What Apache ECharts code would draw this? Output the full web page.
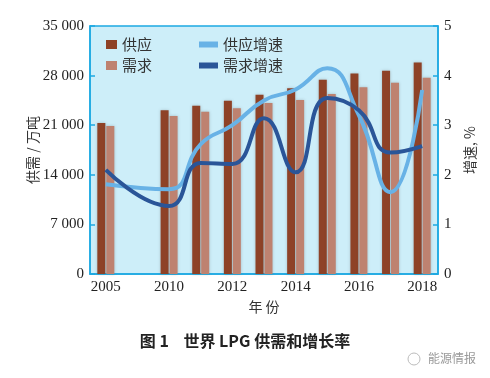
<!DOCTYPE html>
<html><head><meta charset="utf-8">
<script src="https://cdn.jsdelivr.net/npm/echarts@6/dist/echarts.min.js"></script>
<style>html,body{margin:0;padding:0;background:#fff;}#c{width:490px;height:378px;}</style>
</head><body><div id="c"></div>
<script>
var categories = ['2005', '', '2010', '2011', '2012', '2013', '2014', '2015', '2016', '2017', '2018'];
var supply = [21300, null, 23100, 23750, 24450, 25300, 26200, 27400, 28300, 28700, 29850];
var demand = [20900, null, 22300, 22900, 23400, 24150, 24550, 25400, 26350, 27000, 27700];
var supplyGrowth = [1.81, null, 1.71, 2.62, 3.0, 3.5, 3.72, 4.15, 3.2, 1.65, 3.71];
var demandGrowth = [2.10, null, 1.37, 2.24, 2.22, 3.14, 2.05, 3.55, 3.3, 2.45, 2.58];
var leftTicks = [0, 7000, 14000, 21000, 28000, 35000];

var serif = '"Liberation Serif", "Noto Sans CJK SC", serif';
var axisBlue = '#1DA9E2';
var chart = echarts.init(document.getElementById('c'));
function fmt(v){ return v === 0 ? '0' : String(v).replace(/\B(?=(\d{3})+(?!\d))/g, ' '); }
chart.setOption({
  animation: false,
  grid: {left: 90, right: 52, top: 26, bottom: 104, show: true, backgroundColor: '#CDEEF9', borderColor: axisBlue, borderWidth: 1.5},
  legend: [
    {data: ['供应', '需求'], orient: 'vertical', left: 101, top: 32, itemGap: 6, itemWidth: 11, itemHeight: 9, icon: 'rect',
     textStyle: {fontFamily: '"Noto Sans CJK SC"', fontSize: 15, color: '#333'}},
    {data: ['供应增速', '需求增速'], orient: 'vertical', left: 194, top: 32, itemGap: 6, itemWidth: 19, itemHeight: 6, icon: 'rect',
     textStyle: {fontFamily: '"Noto Sans CJK SC"', fontSize: 15, color: '#333'}}
  ],
  xAxis: {
    type: 'category', data: categories,
    name: '年 份', nameLocation: 'middle', nameGap: 25,
    nameTextStyle: {fontFamily: '"Noto Sans CJK SC"', fontSize: 14, color: '#333'},
    axisLine: {lineStyle: {color: axisBlue, width: 1.5}},
    axisTick: {inside: true, interval: 1, length: 4, lineStyle: {color: axisBlue, width: 1.5}},
    axisLabel: {interval: 1, fontFamily: serif, fontSize: 15, color: '#222', margin: 6}
  },
  yAxis: [
    {type: 'value', min: 0, max: 35000, interval: 7000,
     name: '供需 / 万吨', nameLocation: 'middle', nameGap: 50, nameRotate: 90, nameMoveOverlap: false,
     nameTextStyle: {fontFamily: '"Noto Sans CJK SC"', fontSize: 14, color: '#333'},
     axisLine: {show: true, lineStyle: {color: axisBlue, width: 1.5}},
     axisTick: {show: true, inside: true, length: 5, lineStyle: {color: axisBlue, width: 1.5}},
     splitLine: {show: false},
     axisLabel: {formatter: function(v){ return fmt(v); }, fontFamily: serif, fontSize: 15, color: '#222', margin: 6}},
    {type: 'value', min: 0, max: 5, interval: 1,
     name: '增速, %', nameLocation: 'middle', nameGap: 24, nameRotate: 90,
     nameTextStyle: {fontFamily: '"Noto Sans CJK SC"', fontSize: 14, color: '#333'},
     axisLine: {show: true, lineStyle: {color: axisBlue, width: 1.5}},
     axisTick: {show: true, inside: true, length: 5, lineStyle: {color: axisBlue, width: 1.5}},
     splitLine: {show: false},
     axisLabel: {fontFamily: serif, fontSize: 15, color: '#222', margin: 6}}
  ],
  series: [
    {name: '供应', type: 'bar', data: supply, barWidth: 8, barGap: '12%',
     itemStyle: {color: '#8E4227', shadowColor: 'rgba(90,90,90,0.35)', shadowBlur: 3}},
    {name: '需求', type: 'bar', data: demand, barWidth: 8, barGap: '12%',
     itemStyle: {color: '#BE8270', shadowColor: 'rgba(90,90,90,0.35)', shadowBlur: 3}},
    {name: '供应增速', type: 'line', yAxisIndex: 1, data: supplyGrowth, smooth: 0.5, connectNulls: true,
     showSymbol: false, symbol: 'none', lineStyle: {color: '#68B2E6', width: 4}, itemStyle: {color: '#68B2E6'}},
    {name: '需求增速', type: 'line', yAxisIndex: 1, data: demandGrowth, smooth: 0.5, connectNulls: true,
     showSymbol: false, symbol: 'none', lineStyle: {color: '#2A5598', width: 4}, itemStyle: {color: '#2A5598'}}
  ],
  graphic: [
    {type: 'text', left: 'center', top: 333, style: {text: '图 1    世界 LPG 供需和增长率', fontFamily: '"Noto Sans CJK SC"', fontWeight: 'bold', fontSize: 16, fill: '#222'}},
    {type: 'text', left: 428, top: 352, style: {text: '能源情报', fontFamily: '"Noto Sans CJK SC"', fontSize: 12, fill: '#999'}},
    {type: 'circle', shape: {cx: 414, cy: 359, r: 6}, style: {fill: 'none', stroke: '#bbb', lineWidth: 1}}
  ]
});
</script></body></html>
